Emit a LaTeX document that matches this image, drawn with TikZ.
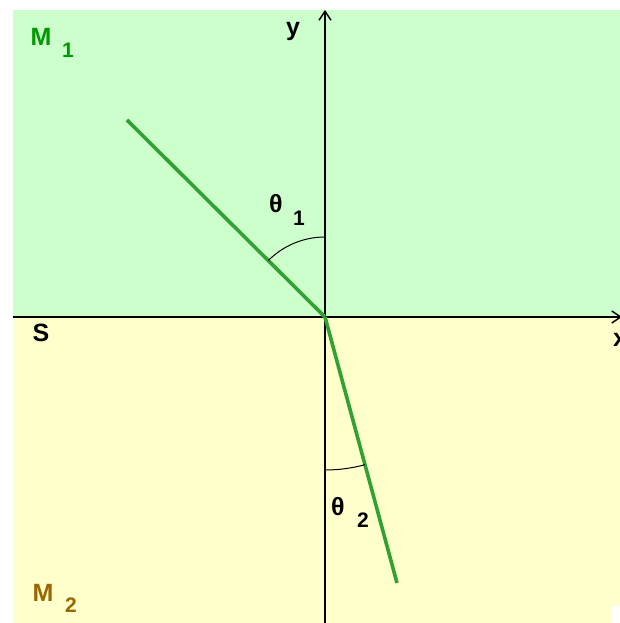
\documentclass[tikz,border=0pt]{standalone}
\usepackage{fontspec}
\setmainfont{Liberation Sans}
\usetikzlibrary{arrows.meta}
\definecolor{bgtop}{HTML}{CCFFCC}
\definecolor{bgbot}{HTML}{FFFFCC}
\definecolor{ray}{HTML}{33A033}
\definecolor{mone}{HTML}{009900}
\definecolor{mtwo}{HTML}{996600}
\tikzset{
  axis/.style={line width=1.4pt,-{Straight Barb[length=9pt,width=12pt]}},
  raystyle/.style={ray,line width=3.6pt},
  anglearc/.style={line width=1pt},
  lbl/.style={font=\fontsize{25}{27}\selectfont\bfseries,inner sep=0pt},
  sub/.style={font=\fontsize{21}{23}\selectfont\bfseries,inner sep=0pt}
}
\begin{document}
\begin{tikzpicture}[x=1pt,y=1pt]
\useasboundingbox (0,0) rectangle (620,623);
\fill[bgtop] (13,306) rectangle (620,613);
\fill[bgbot] (13,0) rectangle (620,306);
\fill[white] (611,0) rectangle (620,17);
\coordinate (O) at (325,306);
\coordinate (A) at (127,503);
\coordinate (B) at (397,40);
\coordinate (yb) at (325,0);
\coordinate (yt) at (325,613);
\coordinate (xl) at (13,306);
\coordinate (xr) at (622,306);
\draw[axis] (yb) -- (yt);
\draw[axis] (xl) -- (xr);
\draw[raystyle] (A) -- (O);
\draw[raystyle] (O) -- (B);
\draw[anglearc] ([shift={(90:80)}]O) arc[start angle=90,end angle=135,radius=80];
\draw[anglearc] ([shift={(270:153)}]O) arc[start angle=270,end angle=285.1,radius=153];
\node[lbl] (ylab) at (293,591) {y};
\node[lbl] (xlab) at (620,283) {x};
\node[lbl] (slab) at (41,290) {S};
\node[lbl,text=mone] (m1) at (41,586) {M};
\node[sub,text=mone] (m1s) at (68,573) {1};
\node[lbl,text=mtwo] (m2) at (43,30) {M};
\node[sub,text=mtwo] (m2s) at (71,18) {2};
\node[lbl] (t1) at (276,419) {θ};
\node[sub] (t1s) at (299,405) {1};
\node[lbl] (t2) at (338,116) {θ};
\node[sub] (t2s) at (363,103) {2};
\end{tikzpicture}
\end{document}
